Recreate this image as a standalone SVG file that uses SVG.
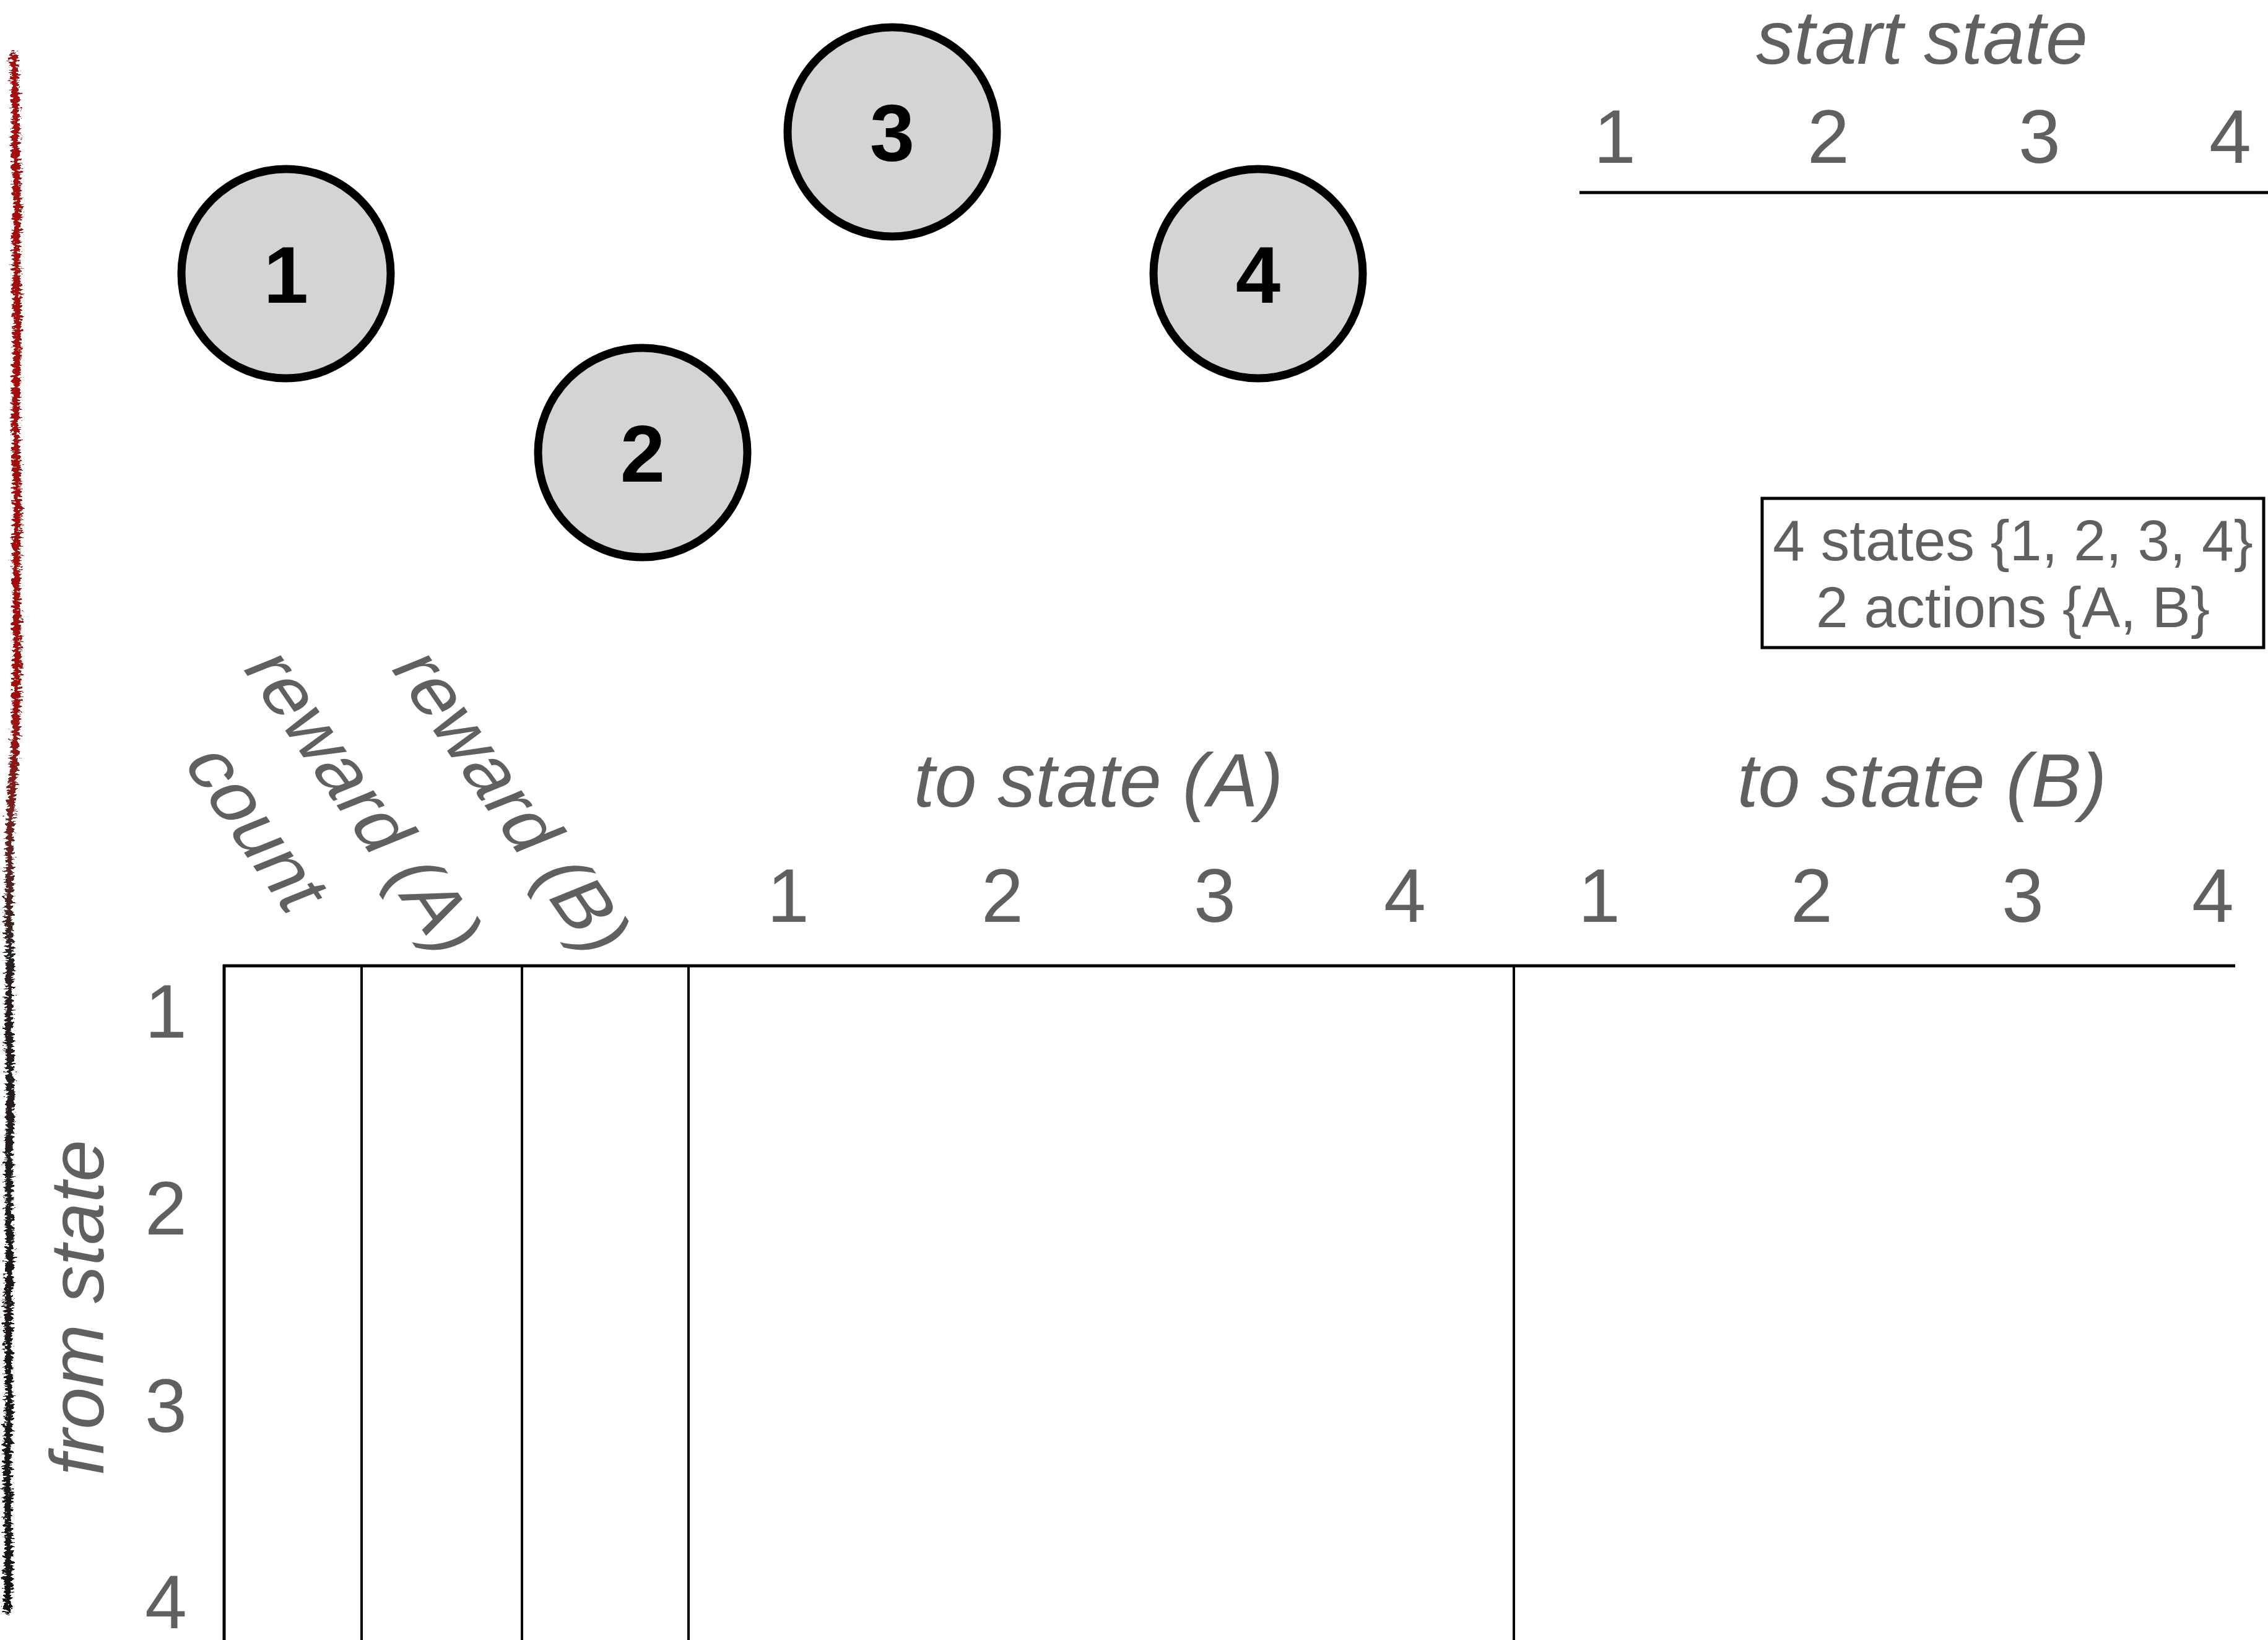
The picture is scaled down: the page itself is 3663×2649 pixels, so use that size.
<svg xmlns="http://www.w3.org/2000/svg" width="3663" height="2649" viewBox="0 0 3663 2649">
<style>
.lbl{font-family:"Liberation Sans",Arial,sans-serif;fill:#606060;font-size:122px}
.it{font-style:italic}
.mid{text-anchor:middle}
.node circle{fill:#d4d4d4;stroke:#000;stroke-width:13}
.node text{font-family:"Liberation Sans",Arial,sans-serif;font-weight:bold;font-size:130px;fill:#000;text-anchor:middle}
.ln{stroke:#000;fill:none}
</style>
<defs>
<linearGradient id="scrib" gradientUnits="userSpaceOnUse" x1="0" y1="90" x2="0" y2="2600">
<stop offset="0" stop-color="#a30d0d"/>
<stop offset="0.42" stop-color="#a01010"/>
<stop offset="0.5" stop-color="#6a2424"/>
<stop offset="0.58" stop-color="#262020"/>
<stop offset="1" stop-color="#111"/>
</linearGradient>
<filter id="rough" x="-3" y="-0.02" width="7" height="1.04">
<feTurbulence type="fractalNoise" baseFrequency="0.12 0.3" numOctaves="3" seed="4"/>
<feDisplacementMap in="SourceGraphic" scale="18" xChannelSelector="R" yChannelSelector="G"/>
</filter>
</defs>
<rect width="3663" height="2649" fill="#fff"/>
<g id="scribble" filter="url(#rough)">
<path d="M22,90 L24,140 L26,190 L25,240 L27,290 L28,340 L26,400 L27,460 L29,520 L27,580 L26,640 L25,700 L27,760 L28,820 L27,880 L26,940 L27,1000 L28,1060 L27,1120 L25,1180 L22,1240 L18,1300 L16,1360 L15,1420 L14,1480 L16,1540 L15,1600 L14,1660 L16,1720 L17,1780 L15,1840 L14,1900 L15,1960 L16,2020 L14,2080 L13,2140 L14,2200 L15,2260 L13,2320 L12,2380 L13,2440 L14,2500 L13,2560 L12,2600" fill="none" stroke="url(#scrib)" stroke-width="12" stroke-linecap="round"/>
<path d="M20,110 L23,200 L25,320 L24,450 L27,560 L25,690 L26,820 L25,950 L26,1080 L23,1200 L17,1320 L13,1450 L14,1580 L13,1710 L15,1840 L13,1970 L14,2100 L12,2230 L13,2360 L11,2490 L12,2590" fill="none" stroke="url(#scrib)" stroke-width="6" stroke-linecap="round" opacity="0.8"/>
</g>
<g id="node-1" class="node"><circle cx="462" cy="442" r="169"/><text x="462" y="489">1</text></g>
<g id="node-2" class="node"><circle cx="1038" cy="731" r="169"/><text x="1038" y="778">2</text></g>
<g id="node-3" class="node"><circle cx="1441" cy="213" r="169"/><text x="1441" y="260">3</text></g>
<g id="node-4" class="node"><circle cx="2032" cy="442" r="169"/><text x="2032" y="489">4</text></g>
<g id="connectors"></g>
<g id="start-state">
<text class="lbl it mid" x="3104" y="103">start state</text>
<text class="lbl mid" x="2608" y="263">1</text>
<text class="lbl mid" x="2953" y="263">2</text>
<text class="lbl mid" x="3294" y="263">3</text>
<text class="lbl mid" x="3602" y="263">4</text>
<line class="ln" x1="2551" y1="311" x2="3663" y2="311" stroke-width="5"/>
</g>
<g id="legend">
<rect x="2846" y="805" width="810" height="241" fill="#fff" stroke="#000" stroke-width="5"/>
<text class="lbl mid" x="3251" y="905" style="font-size:93px">4 states {1, 2, 3, 4}</text>
<text class="lbl mid" x="3251" y="1013" style="font-size:93px">2 actions {A, B}</text>
</g>
<g id="table">
<text class="lbl" transform="matrix(0.566 0.824 -0.927 0.375 293 1230)">count</text>
<text class="lbl" transform="matrix(0.566 0.824 -0.927 0.375 389 1076)">reward (A)</text>
<text class="lbl" transform="matrix(0.566 0.824 -0.927 0.375 628 1076)">reward (B)</text>
<text class="lbl it mid" x="1774" y="1303">to state (A)</text>
<text class="lbl it mid" x="3104" y="1303">to state (B)</text>
<text class="lbl mid" x="1273" y="1489">1</text>
<text class="lbl mid" x="1619" y="1489">2</text>
<text class="lbl mid" x="1962" y="1489">3</text>
<text class="lbl mid" x="2269" y="1489">4</text>
<text class="lbl mid" x="2583" y="1489">1</text>
<text class="lbl mid" x="2926" y="1489">2</text>
<text class="lbl mid" x="3267" y="1489">3</text>
<text class="lbl mid" x="3574" y="1489">4</text>
<text class="lbl it mid" transform="translate(167 2112) rotate(-90)">from state</text>
<text class="lbl mid" x="268" y="1676">1</text>
<text class="lbl mid" x="268" y="1994">2</text>
<text class="lbl mid" x="268" y="2313">3</text>
<text class="lbl mid" x="268" y="2630">4</text>
<line class="ln" x1="360" y1="1560" x2="3610" y2="1560" stroke-width="5"/>
<line class="ln" x1="362" y1="1558" x2="362" y2="2649" stroke-width="5"/>
<line class="ln" x1="584" y1="1560" x2="584" y2="2649" stroke-width="4"/>
<line class="ln" x1="843" y1="1560" x2="843" y2="2649" stroke-width="4"/>
<line class="ln" x1="1112" y1="1560" x2="1112" y2="2649" stroke-width="4"/>
<line class="ln" x1="2445" y1="1560" x2="2445" y2="2649" stroke-width="4"/>
</g>
</svg>
